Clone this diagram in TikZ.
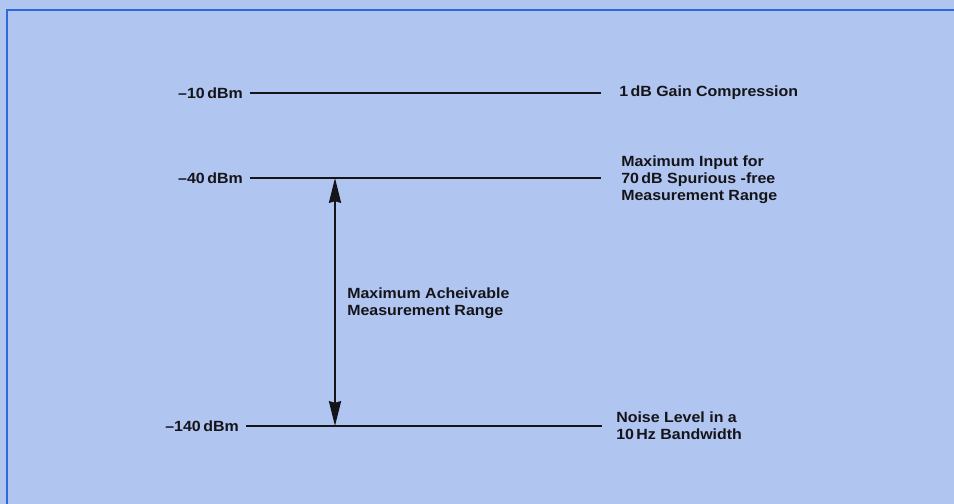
\documentclass[tikz,border=0pt]{standalone}
\usepackage{fontspec}
\setmainfont{Liberation Sans}[FakeStretch=1.08]
\usepackage{tikz}
\usetikzlibrary{arrows.meta}
\usepackage{xcolor}
\definecolor{paper}{RGB}{177, 197, 241}
\definecolor{frameblue}{RGB}{45, 105, 220}
\definecolor{ink}{RGB}{20, 20, 25}

\tikzset{
  lvl/.style={anchor=east, inner sep=0pt, text=ink, font=\fontsize{10.5}{12}\selectfont\bfseries},
  note/.style={anchor=west, inner sep=0pt, align=left, text=ink, font=\fontsize{10.5}{12.2}\selectfont\bfseries},
  levelline/.style={draw=ink, line width=1.6pt},
  rangearrow/.style={draw=ink, line width=1.5pt, >={Stealth[length=0.62cm, width=0.3cm, inset=0.04cm]}, <->},
}

\begin{document}
\begin{tikzpicture}[x=0.025cm, y=0.025cm]
      \fill[paper] (0,0) rectangle (954,504);
      \useasboundingbox (0,0) rectangle (954,504);
      \draw[frameblue, line width=1.8pt] (7,0) -- (7,494) -- (954,494);

      \node[lvl] (l10) at (243, 411) {\textendash10\,dBm};
      \node[lvl] (l40) at (243, 326) {\textendash40\,dBm};
      \node[lvl] (l140) at (239, 78) {\textendash140\,dBm};

      \node[note] (n10) at (619, 411) {1\,dB Gain Compression};
      \node[note] (n40) at (621, 324) {Maximum Input for\\70\,dB Spurious -free\\Measurement Range};
      \node[note] (n140) at (616, 78) {Noise Level in a\\10\,Hz Bandwidth};

      \draw[levelline] ([xshift=0.175cm]l10.east) -- ([xshift=-0.45cm]n10.west);
      \draw[levelline] ([xshift=0.175cm]l40.east) -- ([xshift=-0.5cm]n40.west |- l40.east);
      \draw[levelline] ([xshift=0.175cm]l140.east) -- ([xshift=-0.35cm]n140.west);

      \coordinate (top) at (335, 326);
      \coordinate (bot) at (335, 78);
      \draw[rangearrow] (top) -- (bot);

      \node[note] (range) at (347, 201) {Maximum Acheivable\\Measurement Range};
    \end{tikzpicture}
\end{document}
